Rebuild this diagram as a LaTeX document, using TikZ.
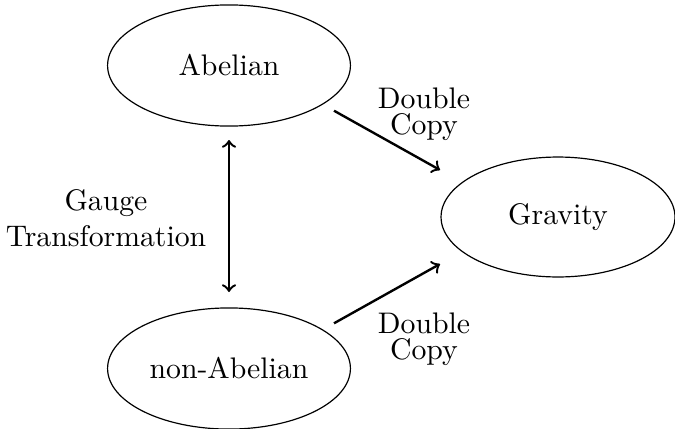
\documentclass[tikz,border=0pt]{standalone}
\usetikzlibrary{shapes.geometric}

\begin{document}
\begin{tikzpicture}[x=0.336pt, y=-0.336pt,
  theory/.style={draw, ellipse, inner sep=0pt},
  relation/.style={->, thick},
  caption/.style={align=center, inner sep=0pt}]

  \useasboundingbox (0,0) rectangle (675,428);

  % the three theories
  \node[theory, minimum width=81.6pt, minimum height=40.7pt] (ab)  at (229,65.5)  {Abelian};
  \node[theory, minimum width=81.6pt, minimum height=40.7pt] (nab) at (229,368.5) {non-Abelian};
  \node[theory, minimum width=78.6pt, minimum height=40.3pt] (gr)  at (558,217)   {Gravity};

  % relations between them
  \draw[relation, <->] ([shift={(0,74.5)}]ab.center) -- ([shift={(0,-76.5)}]nab.center);
  \draw[relation] ([shift={(105,45.2)}]ab.center) -- ([shift={(-118,-47)}]gr.center);
  \draw[relation] ([shift={(105,-45.2)}]nab.center) -- ([shift={(-118,47)}]gr.center);

  % labels
  \node[caption] (gt)  at (106,218) {Gauge\\Transformation};
  \node[caption] (dc1) at (424,114) {Double\\[-3.3pt]Copy};
  \node[caption] (dc2) at (424,339) {Double\\[-3.3pt]Copy};
\end{tikzpicture}
\end{document}
